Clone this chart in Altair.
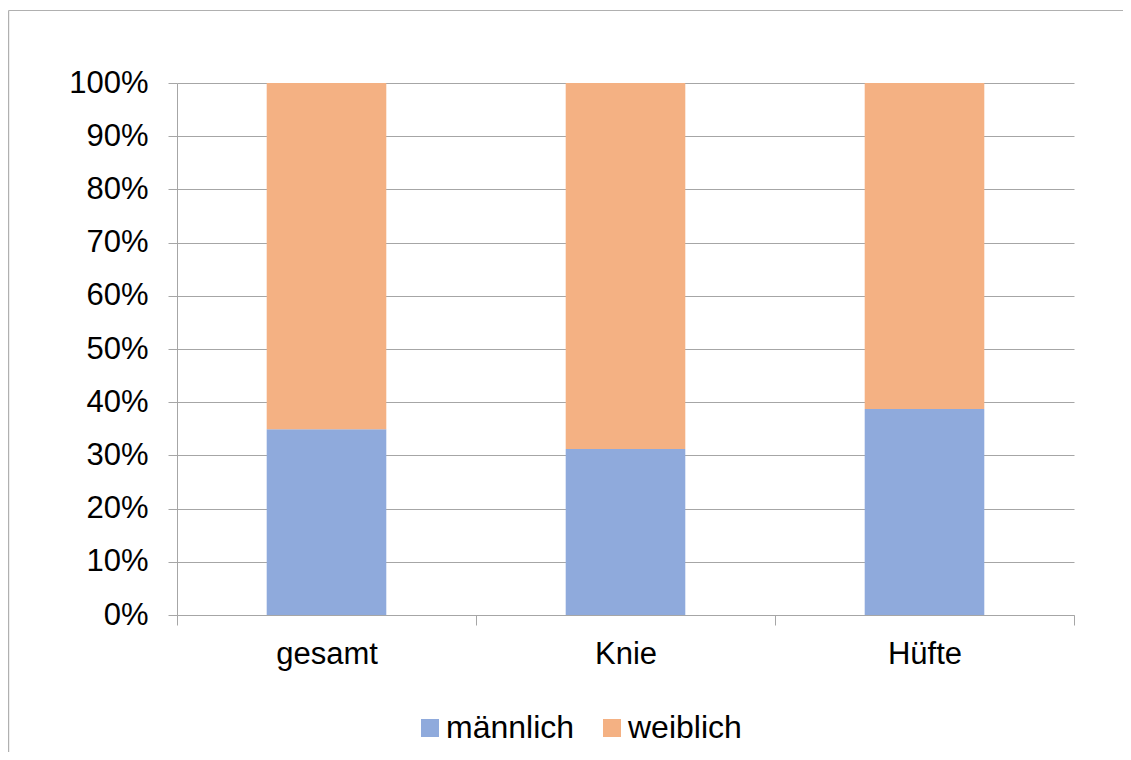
import altair as alt
import pandas as pd

categories = ["gesamt", "Knie", "Hüfte"]
maennlich = [0.349, 0.312, 0.387]
weiblich = [0.651, 0.688, 0.613]
series = ["männlich", "weiblich"]
colors = ["#8FAADC", "#F4B183"]
y_ticks = [0.0, 0.1, 0.2, 0.3, 0.4, 0.5, 0.6, 0.7, 0.8, 0.9, 1.0]

rows = []
for c, m, w in zip(categories, maennlich, weiblich):
    rows.append({"Kategorie": c, "Geschlecht": series[0], "Anteil": m, "ord": 0})
    rows.append({"Kategorie": c, "Geschlecht": series[1], "Anteil": w, "ord": 1})
df = pd.DataFrame(rows)

W, H = 897, 532
PL, PT = 169, 75
CW, CH = 1115, 744
PR = CW - PL - W
PB = CH - PT - H
FONT = "Liberation Sans"
GRAY = "#A6A6A6"
BORDER = "#B0B0B0"

one = pd.DataFrame({"b": [0]})
border_left = alt.Chart(one).mark_rule(color=BORDER, strokeWidth=1.2).encode(
    x=alt.value(-PL + 0.6),
    y=alt.value(-PT + 2.5),
    y2=alt.value(H + PB),
)
border_top = alt.Chart(one).mark_rule(color=BORDER, strokeWidth=1.2).encode(
    x=alt.value(-PL + 0.6),
    x2=alt.value(W + PR),
    y=alt.value(-PT + 2.5),
)

bars = alt.Chart(df).mark_bar(width=alt.RelativeBandSize(0.4)).encode(
    x=alt.X(
        "Kategorie:N",
        sort=categories,
        scale=alt.Scale(paddingInner=0, paddingOuter=0),
        axis=alt.Axis(
            title=None,
            labelAngle=0,
            tickBand="extent",
            grid=False,
            domainColor=GRAY,
            tickColor=GRAY,
            tickSize=10,
            labelFontSize=31,
            labelFont=FONT,
            labelColor="#000000",
            labelPadding=14,
        ),
    ),
    y=alt.Y(
        "Anteil:Q",
        stack="zero",
        scale=alt.Scale(domain=[0, 1], nice=False),
        axis=alt.Axis(
            title=None,
            values=y_ticks,
            format=".0%",
            grid=True,
            gridColor=GRAY,
            domainColor=GRAY,
            tickColor=GRAY,
            tickSize=9,
            labelFontSize=31,
            labelFont=FONT,
            labelColor="#000000",
            labelPadding=20,
        ),
    ),
    color=alt.Color(
        "Geschlecht:N",
        scale=alt.Scale(domain=series, range=colors),
        legend=alt.Legend(
            title=None,
            orient="none",
            legendX=237,
            legendY=629,
            direction="horizontal",
            symbolType="square",
            symbolSize=324,
            symbolStrokeWidth=0,
            labelFontSize=32,
            labelFont=FONT,
            labelColor="#000000",
            labelOffset=0,
            columnPadding=21,
            padding=0,
        ),
    ),
    order=alt.Order("ord:Q"),
)

chart = alt.layer(border_left, border_top, bars).properties(
    width=W,
    height=H,
    autosize=alt.AutoSizeParams(type="none"),
    padding={"left": PL, "top": PT, "right": PR, "bottom": PB},
    background="#FFFFFF",
).configure_view(stroke=None)

chart.save("out.html", embed_options={"renderer": "svg", "actions": False})
